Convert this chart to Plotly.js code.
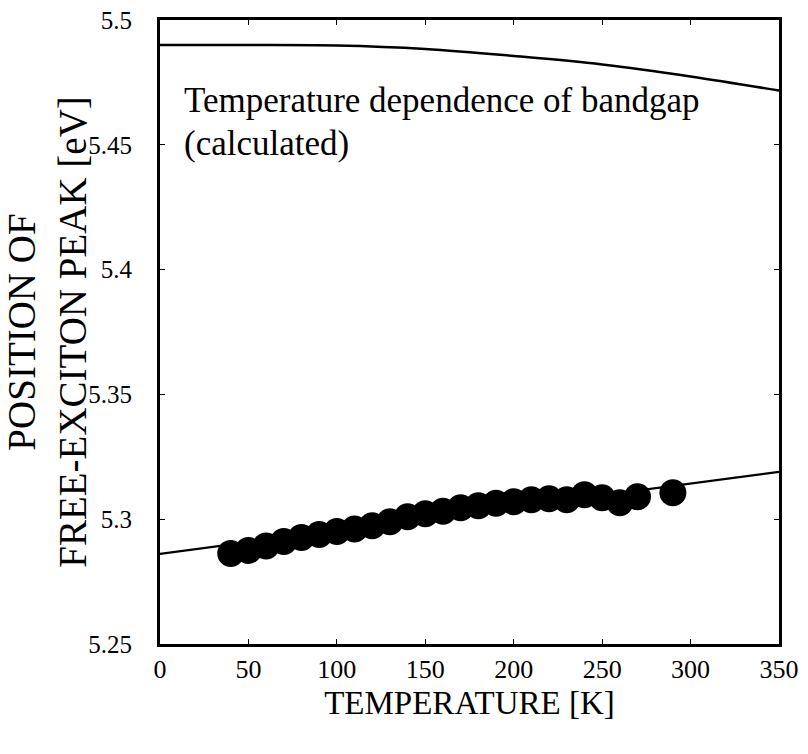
<!DOCTYPE html>
<html>
<head>
<meta charset="utf-8">
<script src="https://cdn.plot.ly/plotly-3.0.1.min.js"></script>
<style>html,body{margin:0;padding:0;background:#fff;}</style>
</head>
<body>
<div id="chart" style="width:808px;height:754px;"></div>
<script>
// Measured free-exciton peak positions
const tempK  = [40, 50, 60, 70, 80, 90, 100, 110, 120, 130, 140, 150, 160, 170, 180, 190, 200, 210, 220, 230, 240, 250, 260, 270, 290];
const peakEV = [5.2863, 5.2875, 5.2893, 5.2911, 5.2927, 5.2939, 5.2951, 5.2961, 5.2974, 5.2990, 5.3010, 5.3022, 5.3032, 5.3046, 5.3054, 5.3064, 5.3070, 5.3078, 5.3082, 5.3078, 5.3098, 5.3086, 5.3066, 5.3090, 5.3106];

// Fitted line through measured points
const fitT  = [0, 350];
const fitEV = [5.2861, 5.3190];

// Calculated temperature dependence of bandgap
const bandgapT  = [0, 50, 100, 150, 200, 250, 300, 350];
const bandgapEV = [5.4900, 5.4900, 5.4898, 5.4884, 5.4856, 5.4822, 5.4774, 5.4717];

// Tick labels
const xTickVals = [0, 50, 100, 150, 200, 250, 300, 350];
const yTickVals = [5.25, 5.3, 5.35, 5.4, 5.45, 5.5];
const yTickText = ['5.25', '5.3', '5.35', '5.4', '5.45', '5.5'];

const serif = 'Liberation Serif';

const traces = [
  {x: bandgapT, y: bandgapEV, mode: 'lines', line: {color: '#000', width: 2.5, shape: 'spline'}, showlegend: false, hoverinfo: 'skip'},
  {x: fitT, y: fitEV, mode: 'lines', line: {color: '#000', width: 2.2}, showlegend: false, hoverinfo: 'skip'},
  {x: tempK, y: peakEV, mode: 'markers', marker: {color: '#000', size: 27, line: {width: 0}}, showlegend: false}
];

const layout = {
  width: 808, height: 754,
  margin: {l: 160, r: 29, t: 20, b: 110},
  paper_bgcolor: '#fff', plot_bgcolor: '#fff',
  font: {family: serif, color: '#000', size: 26},
  xaxis: {
    range: [0, 350], showgrid: false, zeroline: false,
    showline: true, linecolor: '#000', linewidth: 3, mirror: 'allticks',
    ticks: 'inside', ticklen: 5, tickwidth: 1, tickcolor: '#000',
    tickvals: xTickVals,
    title: {text: 'TEMPERATURE [K]', font: {family: serif, size: 33, color: '#000'}, standoff: 8}
  },
  yaxis: {
    range: [5.25, 5.5], showgrid: false, zeroline: false,
    showline: true, linecolor: '#000', linewidth: 3, mirror: 'allticks',
    ticks: 'inside', ticklen: 5, tickwidth: 1, tickcolor: '#000',
    tickvals: yTickVals, ticktext: yTickText,
    tickfont: {family: '"Liberation Serif", serif', size: 25, color: '#000'},
    ticklabelstandoff: 20,
    title: {text: 'POSITION OF<br>FREE-EXCITON PEAK [eV]', font: {family: serif, size: 39, color: '#000'}, standoff: 0}
  },
  annotations: [
    {
      xref: 'paper', yref: 'paper', x: 0.035, y: 0.905, xanchor: 'left', yanchor: 'top',
      align: 'left', showarrow: false,
      text: 'Temperature dependence of bandgap',
      font: {family: serif, size: 35, color: '#000'}
    },
    {
      xref: 'paper', yref: 'paper', x: 0.035, y: 0.836, xanchor: 'left', yanchor: 'top',
      align: 'left', showarrow: false,
      text: '(calculated)',
      font: {family: serif, size: 35, color: '#000'}
    }
  ]
};

Plotly.newPlot('chart', traces, layout, {displayModeBar: false, staticPlot: true});
</script>
</body>
</html>
